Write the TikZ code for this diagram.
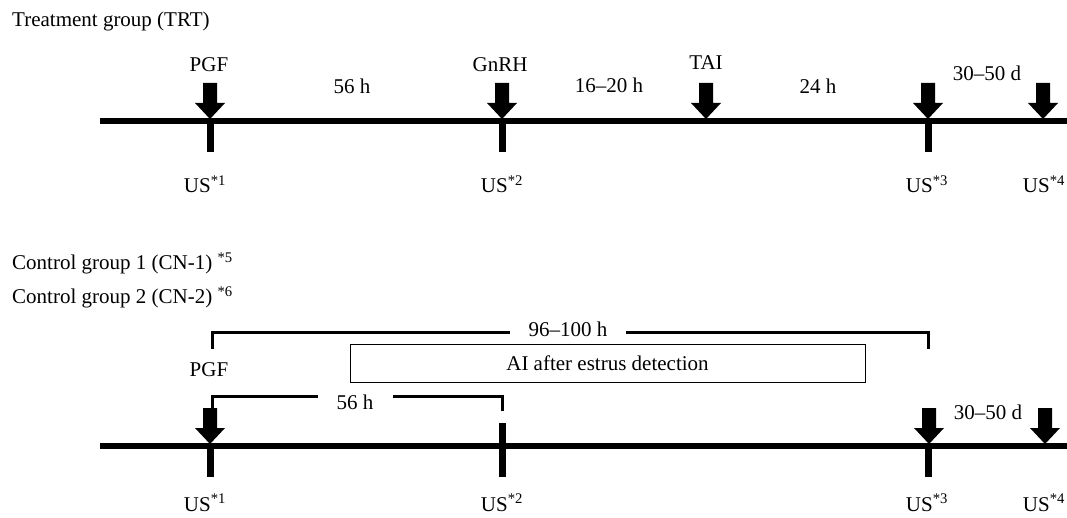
\documentclass[tikz,border=0pt]{standalone}
\usepackage{fontspec}
\setmainfont{Liberation Serif}
\begin{document}
\begin{tikzpicture}[x=1pt,y=-1pt,
  lbl/.style={inner sep=0pt,anchor=base,font=\fontsize{21}{25}\selectfont},
  lblw/.style={lbl,anchor=base west},
  axis/.style={line width=6pt},
  tickmark/.style={line width=7pt},
  bracket/.style={line width=3pt},
  evarrow/.pic={\fill (0,0) -- (-15,-16) -- (-7,-16) -- (-7,-36) -- (7,-36) -- (7,-16) -- (15,-16) -- cycle;}
]
\useasboundingbox (0,0) rectangle (1067,518);

% ---------- Treatment group ----------
\node[lblw] (trt) at (12,27) {Treatment group (TRT)};

\coordinate (tL) at (100,121);
\coordinate (tR) at (1067,121);
\draw[axis] (tL) -- (tR);

\pic at (210,119) {evarrow};
\pic at (502,119) {evarrow};
\pic at (706,119) {evarrow};
\pic at (928,119) {evarrow};
\pic at (1043,119) {evarrow};

\coordinate (t1a) at (210,121); \coordinate (t1b) at (210,152);
\coordinate (t2a) at (502,121); \coordinate (t2b) at (502,152);
\coordinate (t3a) at (928,121); \coordinate (t3b) at (928,152);
\draw[tickmark] (t1a) -- (t1b);
\draw[tickmark] (t2a) -- (t2b);
\draw[tickmark] (t3a) -- (t3b);

\node[lbl] (pgf1) at (209,72) {PGF};
\node[lbl] (gnrh) at (500,72) {GnRH};
\node[lbl] (tai) at (706,70) {TAI};
\node[lbl] (h56a) at (352,94) {56 h};
\node[lbl] (h1620) at (609,93) {16–20 h};
\node[lbl] (h24) at (818,94) {24 h};
\node[lbl] (d3050a) at (987,81) {30–50 d};

\node[lbl] (us1a) at (205,193) {US\textsuperscript{*1}};
\node[lbl] (us2a) at (502,193) {US\textsuperscript{*2}};
\node[lbl] (us3a) at (927,193) {US\textsuperscript{*3}};
\node[lbl] (us4a) at (1044,193) {US\textsuperscript{*4}};

% ---------- Control groups ----------
\node[lblw] (cn1) at (12,270) {Control group 1 (CN-1) \textsuperscript{*5}};
\node[lblw] (cn2) at (12,304) {Control group 2 (CN-2) \textsuperscript{*6}};

% 96-100 h bracket
\node[lbl] (h96) at (568,336) {96–100 h};
\coordinate (b1a) at (212,349); \coordinate (b1b) at (212,332);
\coordinate (b1c) at (928,332); \coordinate (b1d) at (928,349);
\coordinate (b1g1) at (510,332); \coordinate (b1g2) at (626,332);
\draw[bracket] (b1a) -- (b1b) -- (b1g1);
\draw[bracket] (b1g2) -- (b1c) -- (b1d);

% AI box
\node[draw,line width=1pt,minimum width=515pt,minimum height=38pt,inner sep=0pt,
      font=\fontsize{21}{25}\selectfont] (ai) at (607.5,363) {AI after estrus detection};

\node[lbl] (pgf2) at (209,376) {PGF};

% 56 h bracket
\node[lbl] (h56b) at (355,409) {56 h};
\coordinate (b2a) at (212,409); \coordinate (b2b) at (212,396);
\coordinate (b2c) at (502,396); \coordinate (b2d) at (502,411);
\coordinate (b2g1) at (318,396); \coordinate (b2g2) at (393,396);
\draw[bracket] (b2a) -- (b2b) -- (b2g1);
\draw[bracket] (b2g2) -- (b2c) -- (b2d);

\coordinate (bL) at (100,446);
\coordinate (bR) at (1067,446);
\draw[axis] (bL) -- (bR);

\pic at (210,444) {evarrow};
\pic at (929,444) {evarrow};
\pic at (1045,444) {evarrow};

\coordinate (u1a) at (210,446); \coordinate (u1b) at (210,477);
\coordinate (u2a) at (502,423); \coordinate (u2b) at (502,477);
\coordinate (u3a) at (928,446); \coordinate (u3b) at (928,477);
\draw[tickmark] (u1a) -- (u1b);
\draw[tickmark] (u2a) -- (u2b);
\draw[tickmark] (u3a) -- (u3b);

\node[lbl] (d3050b) at (988,419) {30–50 d};

\node[lbl] (us1b) at (205,511) {US\textsuperscript{*1}};
\node[lbl] (us2b) at (502,511) {US\textsuperscript{*2}};
\node[lbl] (us3b) at (927,511) {US\textsuperscript{*3}};
\node[lbl] (us4b) at (1044,511) {US\textsuperscript{*4}};
\end{tikzpicture}
\end{document}
